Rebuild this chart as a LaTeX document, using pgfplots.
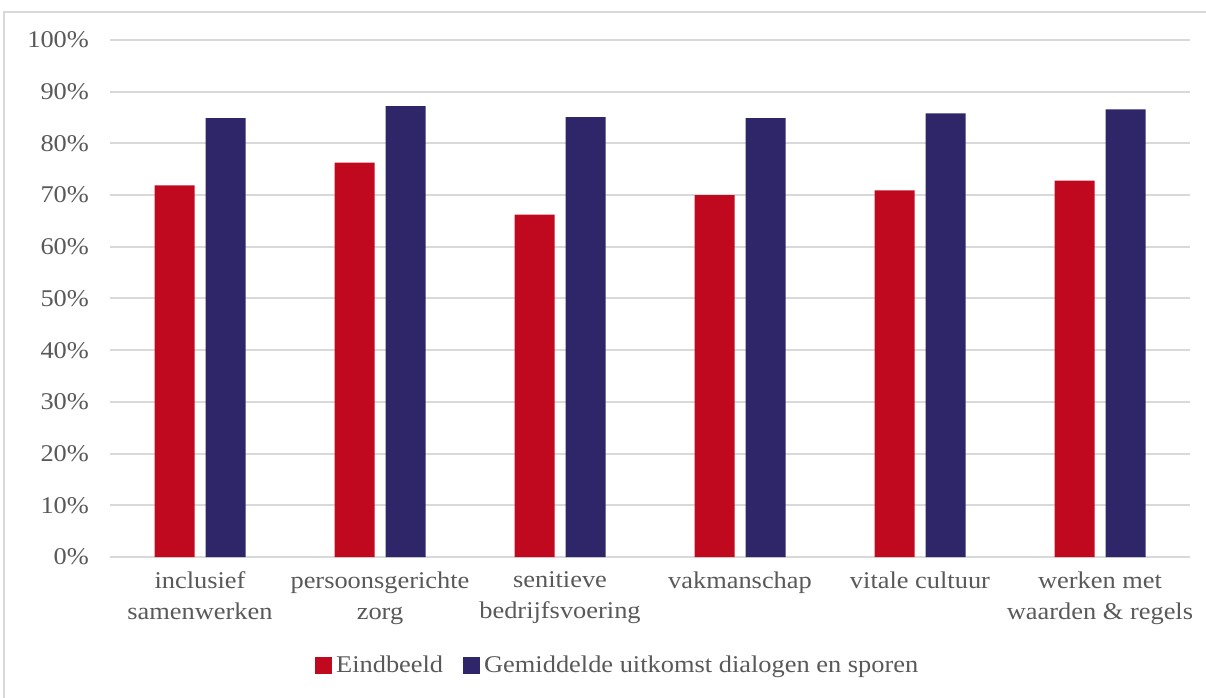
\documentclass[border=0pt]{standalone}
\usepackage{pgfplots}
\pgfplotsset{compat=1.18}
\usepackage{fontspec}
\setmainfont[FakeStretch=1.1]{Liberation Serif}
\definecolor{redbar}{RGB}{192,8,30}
\definecolor{bluebar}{RGB}{46,38,105}
\definecolor{txt}{RGB}{89,89,89}
\definecolor{gridc}{RGB}{217,217,217}
\begin{document}
\begin{tikzpicture}
\useasboundingbox (0,0) rectangle (603pt,348.5pt);
\draw[gridc, line width=0.75pt] (2pt,-5pt) -- (2pt,342.5pt) -- (610pt,342.5pt);
\begin{axis}[
  at={(55pt,70pt)}, anchor=south west, scale only axis,
  width=540pt, height=258.5pt,
  ybar=5.5pt, bar width=20pt,
  xmin=-0.5, xmax=5.5, ymin=0, ymax=100,
  xtick={0,1,2,3,4,5},
  xticklabels={{inclusief\\samenwerken},{persoonsgerichte\\zorg},{senitieve\\bedrijfsvoering},{vakmanschap},{vitale cultuur},{werken met\\waarden \& regels}},
  ytick={0,10,...,100},
  yticklabel={\pgfmathprintnumber{\tick}\%},
  /pgf/number format/assume math mode=true,
  ymajorgrids, grid style={gridc, line width=1pt},
  axis line style={draw=none},
  major tick length=0pt,
  tick label style={font=\fontsize{12}{15.5}\selectfont, text=txt},
  y tick label style={xshift=-7pt},
  x tick label style={align=center, anchor=north, yshift=-4pt},
  legend style={at={(0.471,-0.211)}, anchor=center, draw=none, fill=none,
    legend columns=2, font=\fontsize{12}{14}\selectfont, text=txt,
    /tikz/every even column/.append style={column sep=8pt}},
  legend image code/.code={\fill[#1,draw=none] (0pt,-4.2pt) rectangle (8.5pt,4.3pt);},
]
\addplot[fill=redbar, draw=none] coordinates {(0,71.9) (1,76.3) (2,66.2) (3,70.0) (4,70.9) (5,72.8)};
\addplot[fill=bluebar, draw=none] coordinates {(0,84.9) (1,87.2) (2,85.1) (3,84.9) (4,85.8) (5,86.6)};
\legend{Eindbeeld, Gemiddelde uitkomst dialogen en sporen}
\end{axis}
\end{tikzpicture}
\end{document}
